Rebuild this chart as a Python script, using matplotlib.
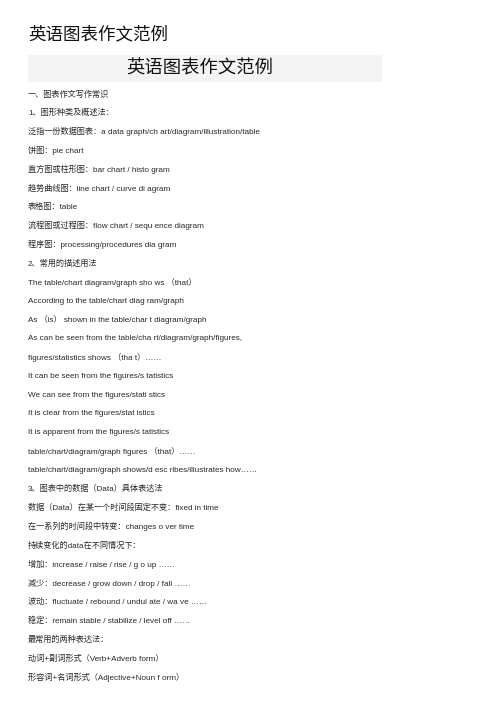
import matplotlib.pyplot as plt
from matplotlib.patches import Rectangle

plt.rcParams['font.family'] = ['Liberation Sans', 'Noto Sans CJK SC', 'DejaVu Sans']

W, H = 504, 713

page_title = "英语图表作文范例"
banner_title = "英语图表作文范例"

body_lines = [
    "一、图表作文写作常识",
    "1、图形种类及概述法：",
    "泛指一份数据图表：a data graph/ch art/diagram/illustration/table",
    "饼图：pie chart",
    "直方图或柱形图：bar chart / histo gram",
    "趋势曲线图：line chart / curve di agram",
    "表格图：table",
    "流程图或过程图：flow chart / sequ ence diagram",
    "程序图：processing/procedures dia gram",
    "2、常用的描述用法",
    "The table/chart diagram/graph sho ws （that）",
    "According to the table/chart diag ram/graph",
    "As （is） shown in the table/char t diagram/graph",
    "As can be seen from the table/cha rt/diagram/graph/figures,",
    "figures/statistics shows （tha t）……",
    "It can be seen from the figures/s tatistics",
    "We can see from the figures/stati stics",
    "It is clear from the figures/stat istics",
    "It is apparent from the figures/s tatistics",
    "table/chart/diagram/graph figures （that）……",
    "table/chart/diagram/graph shows/d esc ribes/illustrates how……",
    "3、图表中的数据（Data）具体表达法",
    "数据（Data）在某一个时间段固定不变：fixed in time",
    "在一系列的时间段中转变：changes o ver time",
    "持续变化的data在不同情况下：",
    "增加：increase / raise / rise / g o up ……",
    "减少：decrease / grow down / drop / fall ……",
    "波动：fluctuate / rebound / undul ate / wa ve ……",
    "稳定：remain stable / stabilize / level off ……",
    "最常用的两种表达法：",
    "动词+副词形式（Verb+Adverb form）",
    "形容词+名词形式（Adjective+Noun f orm）",
]

fig = plt.figure(figsize=(W / 100, H / 100), dpi=100)
ax = fig.add_axes([0, 0, 1, 1])
ax.set_xlim(0, W)
ax.set_ylim(H, 0)
ax.axis("off")

left = 28
ax.text(left, 34, page_title, fontsize=12.6, color="#111111", va="center", ha="left")

ax.add_patch(Rectangle((28, 55), 354, 27, facecolor="#f4f4f4", edgecolor="none"))
ax.text(200, 69, banner_title, fontsize=13.2, color="#111111", va="center", ha="center")

y0, step = 94.3, 18.8
for i, line in enumerate(body_lines):
    ax.text(left, y0 + i * step, line, fontsize=5.9, color="#2a2a2a", va="center", ha="left")

fig.savefig("out.png", dpi=100)
